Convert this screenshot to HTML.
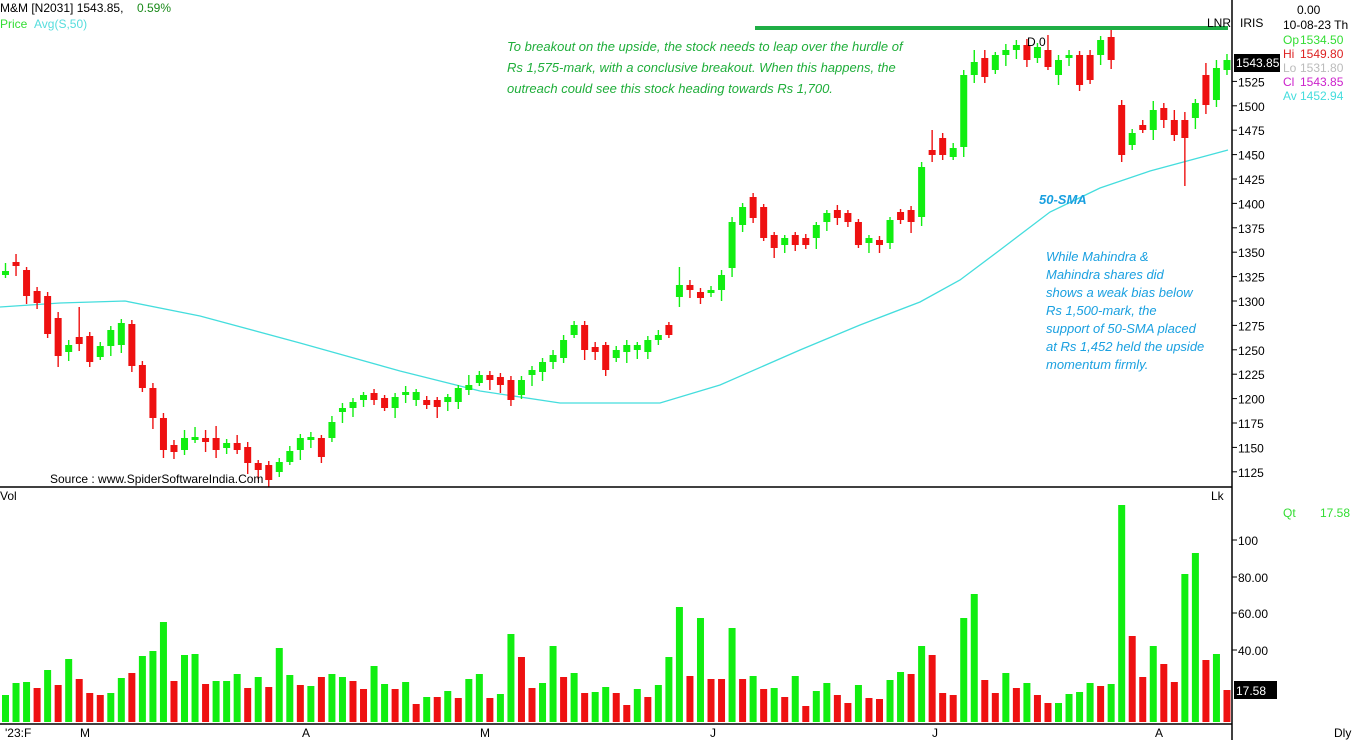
<!DOCTYPE html>
<html><head><meta charset="utf-8"><style>
body{margin:0;background:#fff;width:1352px;height:740px;overflow:hidden;font-family:"Liberation Sans",Tahoma,sans-serif}
svg{position:absolute;left:0;top:0}
text{font-family:"Liberation Sans",sans-serif;font-size:12px}
</style></head><body>
<svg id="s" width="1352" height="740" xmlns="http://www.w3.org/2000/svg">
<rect width="1352" height="740" fill="#fff"/>
<g id="sma"></g><g id="c"></g><g id="v"></g>
<line x1="0" y1="487" x2="1232" y2="487" stroke="#000" stroke-width="1.5"/>
<line x1="0" y1="724" x2="1232" y2="724" stroke="#000" stroke-width="1.5"/>
<line x1="1232" y1="0" x2="1232" y2="740" stroke="#000" stroke-width="1.5"/>
<line x1="755" y1="28" x2="1228" y2="28" stroke="#1fae45" stroke-width="4"/>
<g id="ax"></g>
<text x="0" y="12" fill="#000">M&amp;M [N2031] 1543.85,</text>
<text x="137" y="12" fill="#1a8a1a">0.59%</text>
<text x="0" y="28" fill="#33dd33">Price</text>
<text x="34" y="28" fill="#55dddd">Avg(S,50)</text>
<text x="1207" y="27" fill="#000">LNR</text>
<text x="1240" y="27" fill="#000">IRIS</text>
<text x="1297" y="14" fill="#000">0.00</text>
<text x="1283" y="29" fill="#000">10-08-23 Th</text>
<text x="1283" y="44" fill="#33dd33">Op</text><text x="1300" y="44" fill="#33dd33">1534.50</text>
<text x="1283" y="58" fill="#dd2222">Hi</text><text x="1300" y="58" fill="#dd2222">1549.80</text>
<text x="1283" y="72" fill="#bbbbbb">Lo</text><text x="1300" y="72" fill="#bbbbbb">1531.80</text>
<text x="1283" y="86" fill="#cc22cc">Cl</text><text x="1300" y="86" fill="#cc22cc">1543.85</text>
<text x="1283" y="100" fill="#44dddd">Av</text><text x="1300" y="100" fill="#44dddd">1452.94</text>
<text x="1027" y="46" fill="#000">D 0</text>
<text x="0" y="500" fill="#000">Vol</text>
<text x="1211" y="500" fill="#000">Lk</text>
<text x="1283" y="517" fill="#33dd33">Qt</text><text x="1320" y="517" fill="#33dd33">17.58</text>
<text x="1334" y="737" fill="#000">Dly</text>
<text x="50" y="483" fill="#000">Source : www.SpiderSoftwareIndia.Com</text>
<g fill="#1fae3a">
<text x="507" y="51" style="font-size:13px;font-style:italic">To breakout on the upside, the stock needs to leap over the hurdle of</text>
<text x="507" y="72" style="font-size:13px;font-style:italic">Rs 1,575-mark, with a conclusive breakout. When this happens, the</text>
<text x="507" y="93" style="font-size:13px;font-style:italic">outreach could see this stock heading towards Rs 1,700.</text>
</g>
<text x="1039" y="204" fill="#1aa0e0" style="font-size:13px;font-style:italic;font-weight:bold">50-SMA</text>
<g fill="#1aa0e0">
<text x="1046" y="261" style="font-size:13px;font-style:italic">While Mahindra &amp;</text>
<text x="1046" y="279" style="font-size:13px;font-style:italic">Mahindra shares did</text>
<text x="1046" y="297" style="font-size:13px;font-style:italic">shows a weak bias below</text>
<text x="1046" y="315" style="font-size:13px;font-style:italic">Rs 1,500-mark, the</text>
<text x="1046" y="333" style="font-size:13px;font-style:italic">support of 50-SMA placed</text>
<text x="1046" y="351" style="font-size:13px;font-style:italic">at Rs 1,452 held the upside</text>
<text x="1046" y="369" style="font-size:13px;font-style:italic">momentum firmly.</text>
</g>
<rect x="1234" y="54" width="46" height="18" fill="#000"/>
<text x="1236" y="67" fill="#fff">1543.85</text>
<rect x="1234" y="681" width="43" height="18" fill="#000"/>
<text x="1236" y="695" fill="#fff">17.58</text>
</svg>
<script>
var C=[["g",271,275],["r",262,266],["r",270,296],["r",291,303],["r",296,334],["r",318,356],["g",345,352],["r",337,344],["r",336,362],["g",346,357],["g",330,346],["g",323,345],["r",324,366],["r",365,388],["r",388,418],["r",418,450],["r",445,452],["g",438,450],["g",437,440],["r",438,442],["r",438,450],["g",443,448],["r",443,450],["r",447,463],["r",463,470],["r",465,480],["g",462,472],["g",451,462],["g",438,450],["g",437,440],["r",438,457],["g",422,438],["g",408,412],["g",402,408],["g",395,400],["r",393,400],["r",398,408],["g",397,408],["g",392,395],["g",392,400],["r",400,405],["r",400,407],["g",397,402],["g",388,402],["g",385,390],["g",375,383],["r",375,380],["r",377,385],["r",380,400],["g",380,395],["g",370,375],["g",362,372],["g",355,362],["g",340,358],["g",325,335],["r",325,350],["r",347,352],["r",345,370],["g",350,358],["g",345,352],["g",345,350],["g",340,352],["g",335,340],["r",325,335],["g",285,297],["r",285,290],["r",292,298],["g",290,293],["g",275,290],["g",222,268],["g",207,225],["r",197,218],["r",207,238],["r",235,248],["g",238,245],["r",235,245],["r",238,245],["g",225,238],["g",213,222],["r",210,218],["r",213,222],["r",222,245],["g",238,243],["r",240,245],["g",220,243],["r",212,220],["r",210,222],["g",167,217],["r",150,155],["r",138,155],["g",148,157],["g",75,147],["g",62,75],["r",58,77],["g",55,70],["g",50,55],["g",45,50],["r",45,60],["g",47,58],["r",50,67],["g",60,75],["g",55,58],["r",55,85],["r",55,80],["g",40,55],["r",37,60],["r",105,155],["g",133,145],["r",125,130],["g",110,130],["r",108,120],["r",120,135],["r",120,138],["g",103,118],["r",75,105],["g",68,100],["g",60,70]];
var V=[695,683,682,688,670,685,659,679,693,695,693,678,673,656,651,622,681,655,654,684,681,681,674,688,677,687,648,675,685,686,677,674,677,681,689,666,684,689,682,704,
697,697,691,698,679,674,698,694,634,657,688,683,646,677,673,693,692,687,693,705,689,697,685,657,607,676,618,679,679,628,679,676,689,688,697,676,706,691,683,
695,703,685,698,699,680,672,674,646,655,693,695,618,594,680,693,673,688,683,695,703,703,694,692,683,686,684,505,636,677,646,664,682,574,553,660,654,690];
var VC="gggrgrgrrrggrgggrggrgggrgrggrgrggrrggrgr"+"grgrggrggrrggrgrggrrgrgggrgrrgrgrgrgrgg"+"rrgrrggrgrrrggrrgrgrrggggrggrrgrrggrgr";
var WU=[8,8,3,4,4,6,5,30,4,4,4,4,4,4,5,5,5,8,10,8,12,4,8,5,3,4,4,5,4,5,3,6,5,4,3,4,3,4,6,3,4,3,3,3,10,4,4,4,4,4,4,4,5,5,4,4,5,3,4,5,3,4,5,3,18,5,4,4,5,5,4,4,3,3,3,3,4,3,3,5,3,3,3,4,3,3,4,5,20,5,5,5,12,8,3,6,5,6,4,15,5,5,4,5,4,7,5,4,5,9,5,10,8,4,12,8,6];
var G="#11ee11",R="#ee1111",c="",v="";
for(var i=0;i<C.length;i++){var x=5.5+i*10.53,d=C[i],col=d[0]=="g"?G:R;var t=Math.min(d[1],d[2]),b=Math.max(d[1],d[2]);var wu=WU[i]||4,wl=(i*7%9)+3;if(i==104)wl=10;if(i==112)wl=48;if(i==15)wl=8;
c+='<line x1="'+x+'" y1="'+(t-wu)+'" x2="'+x+'" y2="'+(b+wl)+'" stroke="'+col+'" stroke-width="1.4"/>';
c+='<rect x="'+(x-3.5)+'" y="'+t+'" width="7" height="'+Math.max(b-t,2)+'" fill="'+col+'"/>';
var vc=VC.charAt(i)=="g"?G:R;
v+='<rect x="'+(x-3.5)+'" y="'+V[i]+'" width="7" height="'+(722-V[i])+'" fill="'+vc+'"/>';}
document.getElementById("c").innerHTML=c;document.getElementById("v").innerHTML=v;
var P=[[0,307],[60,303],[125,301],[200,316],[300,343],[400,371],[480,391],[560,403],[660,403],[720,385],[800,350],[860,325],[920,302],[960,280],[1000,250],[1050,212],[1100,188],[1150,171],[1228,150]];
document.getElementById("sma").innerHTML='<polyline fill="none" stroke="#44dddd" stroke-width="1.3" points="'+P.map(function(p){return p.join(",")}).join(" ")+'"/>';
var a="";for(var p=1550;p>=1125;p-=25){var y=57+(1550-p)*0.976;if(p!=1550)a+='<line x1="1232" y1="'+y+'" x2="1237" y2="'+y+'" stroke="#000"/><text x="1238" y="'+(y+5)+'" fill="#000">'+p+'</text>';}
[[100,540],["80.00",577],["60.00",613],["40.00",650]].forEach(function(q){a+='<line x1="1232" y1="'+q[1]+'" x2="1237" y2="'+q[1]+'" stroke="#000"/><text x="1238" y="'+(q[1]+5)+'" fill="#000">'+q[0]+'</text>';});
[["'23:F",5],["M",80],["A",302],["M",480],["J",710],["J",932],["A",1155]].forEach(function(q){a+='<text x="'+q[1]+'" y="737" fill="#000">'+q[0]+'</text>';});
document.getElementById("ax").innerHTML=a;
</script>
</body></html>
